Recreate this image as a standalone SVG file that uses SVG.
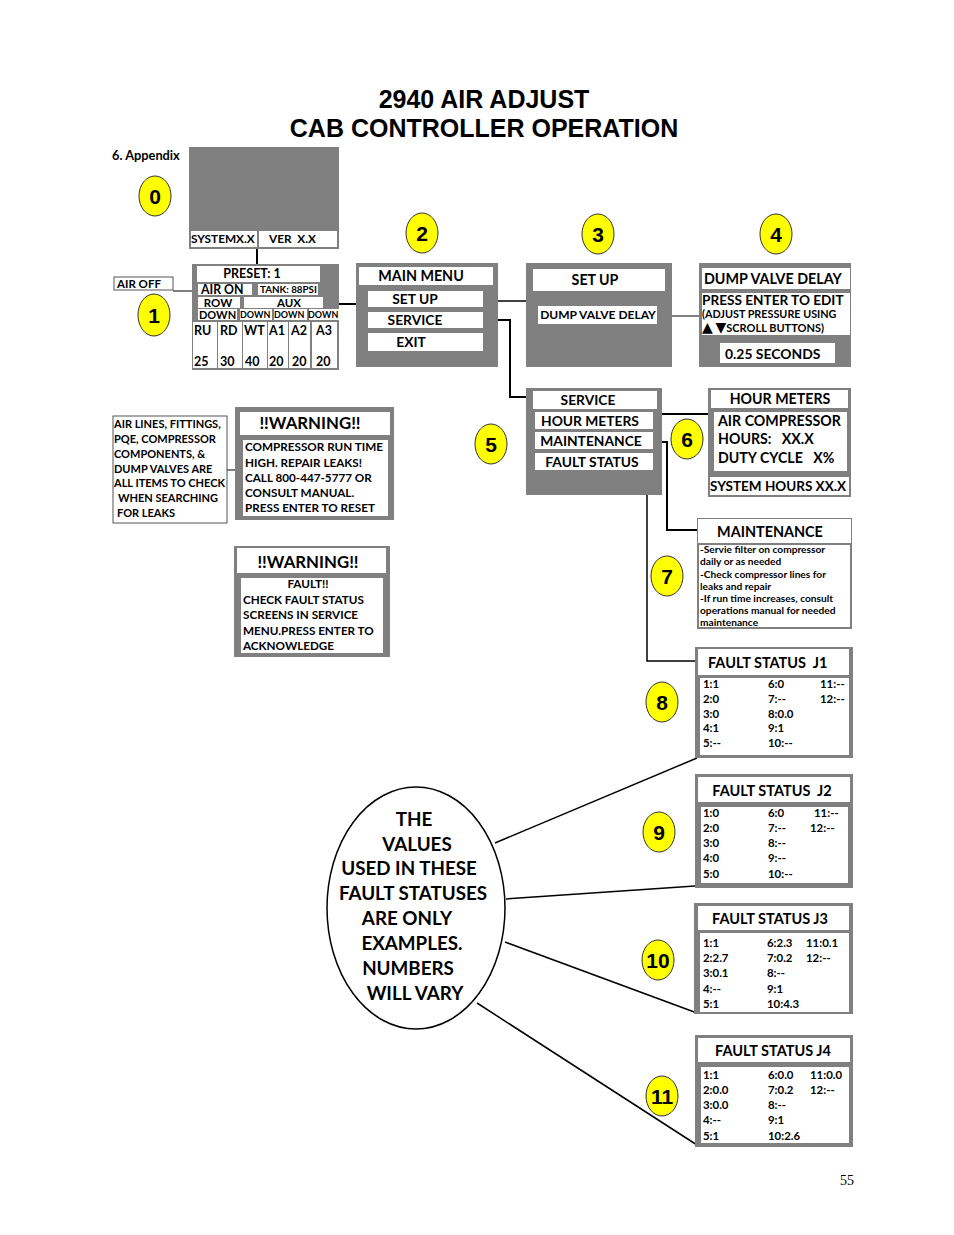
<svg xmlns="http://www.w3.org/2000/svg" width="954" height="1235" viewBox="0 0 954 1235">
<style>
.bg{fill:#fff}
.g{fill:#808080}
.w{fill:#fff}
.wb{fill:#fff;stroke:#555;stroke-width:1}
.t{font-family:Lato,"Liberation Sans",sans-serif;font-weight:bold;fill:#000;white-space:pre}
.c{text-anchor:middle}
.badge{fill:#ffff00;stroke:#333;stroke-width:1}
.bn{font-family:"Liberation Sans",Arial,sans-serif;font-weight:bold;font-size:21px;text-anchor:middle;fill:#000}
.ln{stroke:#000;fill:none}
.tri{font-family:"DejaVu Sans",sans-serif;font-weight:normal}
</style>
<rect class="bg" x="0" y="0" width="954" height="1235"/>
<g id="title">
<text x="484" y="108" font-family="Liberation Sans,Arial,sans-serif" font-weight="bold" font-size="25" text-anchor="middle">2940 AIR ADJUST</text>
<text x="484" y="137" font-family="Liberation Sans,Arial,sans-serif" font-weight="bold" font-size="25" text-anchor="middle">CAB CONTROLLER OPERATION</text>
<text class="t" x="112" y="160" font-size="12.8">6. Appendix</text>
</g>
<g id="connectors">
<path class="ln" stroke-width="2" d="M257 248V264"/>
<path class="ln" stroke-width="1" d="M173 291H198"/>
<path class="ln" stroke-width="2" d="M339 304H357"/>
<path class="ln" stroke-width="1.5" d="M483 301H538"/>
<path class="ln" stroke-width="2" d="M483 320H510V397H533"/>
<path class="ln" stroke-width="1" d="M657 316H700"/>
<path class="ln" stroke-width="2" d="M653 414H714"/>
<path class="ln" stroke-width="2" d="M643 442H667V530H698"/>
<path class="ln" stroke-width="1.5" d="M647 462V661H700"/>
<path class="ln" stroke-width="1" d="M227 470H243"/>
<path class="ln" stroke-width="1.5" d="M495 843L697 758"/>
<path class="ln" stroke-width="1.5" d="M506 899L695 886"/>
<path class="ln" stroke-width="1.5" d="M505 942L697 1013"/>
<path class="ln" stroke-width="1.5" d="M477 1003L697 1145"/>
</g>
<g id="badges">
<ellipse class="badge" cx="155" cy="196" rx="16" ry="20"/><text class="bn" x="155" y="204">0</text>
<ellipse class="badge" cx="154" cy="315" rx="16" ry="21"/><text class="bn" x="154" y="323">1</text>
<ellipse class="badge" cx="422" cy="233" rx="16" ry="20"/><text class="bn" x="422" y="241">2</text>
<ellipse class="badge" cx="598" cy="234" rx="16" ry="20"/><text class="bn" x="598" y="242">3</text>
<ellipse class="badge" cx="776" cy="234" rx="16" ry="20"/><text class="bn" x="776" y="242">4</text>
<ellipse class="badge" cx="491" cy="444" rx="16" ry="20"/><text class="bn" x="491" y="452">5</text>
<ellipse class="badge" cx="687" cy="439" rx="16" ry="20"/><text class="bn" x="687" y="447">6</text>
<ellipse class="badge" cx="667" cy="576" rx="16" ry="20"/><text class="bn" x="667" y="584">7</text>
<ellipse class="badge" cx="662" cy="702" rx="16" ry="20"/><text class="bn" x="662" y="710">8</text>
<ellipse class="badge" cx="659" cy="832" rx="16" ry="20"/><text class="bn" x="659" y="840">9</text>
<ellipse class="badge" cx="658" cy="960" rx="16" ry="20"/><text class="bn" x="658" y="968">10</text>
<ellipse class="badge" cx="662" cy="1096" rx="16" ry="20"/><text class="bn" x="662" y="1104">11</text>
</g>
<g id="screen0">
<rect class="g" x="189" y="147" width="150" height="102"/>
<rect class="w" x="191" y="231" width="66" height="16"/>
<rect class="w" x="259" y="231" width="78" height="16"/>
<text class="t" x="191" y="243" font-size="11.8">SYSTEMX.X</text>
<text class="t" x="269" y="243" font-size="11.8">VER  X.X</text>
</g>
<g id="airoff">
<rect class="wb" x="114" y="277" width="59" height="13"/>
<text class="t" x="117" y="288" font-size="11.5">AIR OFF</text>
</g>
<g id="screen1">
<rect class="g" x="192" y="264" width="147" height="106"/>
<rect class="w" x="197" y="266" width="123" height="16"/>
<text class="t c" x="252" y="278" font-size="12.5">PRESET: 1</text>
<rect class="w" x="198" y="284" width="54" height="11"/>
<text class="t" x="201" y="294" font-size="12.3">AIR ON</text>
<rect class="w" x="258" y="284" width="60" height="11"/>
<text class="t" x="260" y="293" font-size="9.8">TANK: 88PSI</text>
<rect class="w" x="198" y="297" width="42" height="11"/>
<text class="t c" x="218" y="307" font-size="11.5">ROW</text>
<rect class="w" x="244" y="297" width="79" height="11"/>
<text class="t c" x="289" y="307" font-size="11.5">AUX</text>
<rect class="w" x="198" y="309" width="39" height="11"/>
<text class="t" x="199" y="319" font-size="11">DOWN</text>
<rect class="w" x="240" y="309" width="32" height="11"/>
<text class="t" x="240" y="318" font-size="9">DOWN</text>
<rect class="w" x="274" y="309" width="33" height="11"/>
<text class="t" x="274" y="318" font-size="9">DOWN</text>
<rect class="w" x="309" y="309" width="31" height="11"/>
<text class="t" x="308" y="318" font-size="9">DOWN</text>
<rect class="w" x="193" y="322" width="24" height="46"/>
<rect class="w" x="218" y="322" width="24" height="46"/>
<rect class="w" x="243" y="322" width="24" height="46"/>
<rect class="w" x="268" y="322" width="20" height="46"/>
<rect class="w" x="289" y="322" width="21" height="46"/>
<rect class="w" x="312" y="322" width="25" height="46"/>
<g class="t" font-size="12.5">
<text x="194" y="335">RU</text><text x="220" y="335">RD</text><text x="244" y="335">WT</text><text x="269" y="335">A1</text><text x="291" y="335">A2</text><text x="316" y="335">A3</text>
<text x="194" y="366">25</text><text x="220" y="366">30</text><text x="245" y="366">40</text><text x="269" y="366">20</text><text x="292" y="366">20</text><text x="316" y="366">20</text>
</g>
</g>
<g id="mainmenu">
<rect class="g" x="356" y="263" width="142" height="104"/>
<rect class="w" x="359" y="267" width="134" height="18"/>
<text class="t c" x="421" y="281" font-size="14.3">MAIN MENU</text>
<rect class="w" x="368" y="291" width="115" height="16"/>
<text class="t c" x="415" y="304" font-size="13.8">SET UP</text>
<rect class="w" x="368" y="312" width="115" height="16"/>
<text class="t c" x="415" y="325" font-size="13.8">SERVICE</text>
<rect class="w" x="368" y="333" width="115" height="18"/>
<text class="t c" x="411" y="347" font-size="13.8">EXIT</text>
</g>
<g id="setup">
<rect class="g" x="526" y="263" width="146" height="104"/>
<rect class="w" x="533" y="269" width="132" height="22"/>
<text class="t c" x="595" y="285" font-size="14.2">SET UP</text>
<rect class="w" x="538" y="306" width="119" height="18"/>
<text class="t c" x="598" y="319" font-size="12">DUMP VALVE DELAY</text>
</g>
<g id="dumpvalve">
<rect class="g" x="699" y="263" width="152" height="104"/>
<rect class="w" x="702" y="268" width="148" height="21"/>
<text class="t" x="704" y="284" font-size="14.3">DUMP VALVE DELAY</text>
<rect class="w" x="702" y="293" width="148" height="42"/>
<text class="t" x="702" y="305" font-size="13.6">PRESS ENTER TO EDIT</text>
<text class="t" x="702" y="318" font-size="10.8">(ADJUST PRESSURE USING</text>
<text class="t" x="702" y="332" font-size="11"><tspan class="tri" font-size="14">▲</tspan> <tspan class="tri" font-size="14">▼</tspan>SCROLL BUTTONS)</text>
<rect class="w" x="720" y="343" width="115" height="20"/>
<text class="t" x="725" y="359" font-size="13.9">0.25 SECONDS</text>
</g>
<g id="service">
<rect class="g" x="526" y="388" width="136" height="107"/>
<rect class="w" x="533" y="391" width="124" height="18"/>
<text class="t c" x="588" y="405" font-size="13.8">SERVICE</text>
<rect class="w" x="535" y="412" width="118" height="17"/>
<text class="t c" x="590" y="426" font-size="13.8">HOUR METERS</text>
<rect class="w" x="535" y="432" width="118" height="17"/>
<text class="t c" x="591" y="446" font-size="13.8">MAINTENANCE</text>
<rect class="w" x="535" y="453" width="118" height="17"/>
<text class="t c" x="592" y="467" font-size="13.8">FAULT STATUS</text>
</g>
<g id="hourmeters">
<rect class="g" x="708" y="388" width="143" height="109"/>
<rect class="w" x="711" y="390" width="137" height="18"/>
<text class="t c" x="780" y="404" font-size="14.2">HOUR METERS</text>
<rect class="w" x="714" y="412" width="133" height="59"/>
<text class="t" x="718" y="426" font-size="14.2">AIR COMPRESSOR</text>
<text class="t" x="718" y="444" font-size="14.2">HOURS:   XX.X</text>
<text class="t" x="718" y="463" font-size="14.2">DUTY CYCLE   X%</text>
<rect class="w" x="710" y="477" width="139" height="18"/>
<text class="t" x="710" y="491" font-size="13.5">SYSTEM HOURS XX.X</text>
</g>
<g id="airlines">
<rect class="wb" x="113" y="416" width="114" height="107"/>
<g class="t" font-size="11">
<text x="114" y="428">AIR LINES, FITTINGS,</text>
<text x="114" y="443">PQE, COMPRESSOR</text>
<text x="114" y="458">COMPONENTS, &amp;</text>
<text x="114" y="473">DUMP VALVES ARE</text>
<text x="114" y="487">ALL ITEMS TO CHECK</text>
<text x="118" y="502">WHEN SEARCHING</text>
<text x="117" y="517">FOR LEAKS</text>
</g>
</g>
<g id="warning1">
<rect class="g" x="235" y="407" width="159" height="113"/>
<rect class="w" x="240" y="412" width="150" height="23"/>
<text class="t c" x="310" y="429" font-size="16.8">!!WARNING!!</text>
<rect class="w" x="243" y="440" width="145" height="76"/>
<g class="t" font-size="11.7">
<text x="245" y="451">COMPRESSOR RUN TIME</text>
<text x="245" y="467">HIGH. REPAIR LEAKS!</text>
<text x="245" y="482">CALL 800-447-5777 OR</text>
<text x="245" y="497">CONSULT MANUAL.</text>
<text x="245" y="512">PRESS ENTER TO RESET</text>
</g>
</g>
<g id="warning2">
<rect class="g" x="234" y="546" width="156" height="111"/>
<rect class="w" x="237" y="548" width="149" height="25"/>
<text class="t c" x="308" y="568" font-size="16.8">!!WARNING!!</text>
<rect class="w" x="241" y="578" width="142" height="75"/>
<g class="t" font-size="11.7">
<text class="c" x="308" y="588">FAULT!!</text>
<text x="243" y="604">CHECK FAULT STATUS</text>
<text x="243" y="619">SCREENS IN SERVICE</text>
<text x="243" y="635">MENU.PRESS ENTER TO</text>
<text x="243" y="650">ACKNOWLEDGE</text>
</g>
</g>
<g id="maintenance">
<rect class="g" x="697" y="518" width="155" height="111"/>
<rect class="w" x="698" y="519" width="153" height="24"/>
<text class="t c" x="770" y="537" font-size="14.4">MAINTENANCE</text>
<rect class="w" x="699" y="545" width="151" height="82"/>
<g class="t" font-size="10.2">
<text x="700" y="553">-Servie filter on compressor</text>
<text x="700" y="565">daily or as needed</text>
<text x="700" y="578">-Check compressor lines for</text>
<text x="700" y="590">leaks and repair</text>
<text x="700" y="602">-If run time increases, consult</text>
<text x="700" y="614">operations manual for needed</text>
<text x="700" y="626">maintenance</text>
</g>
</g>
<g id="faultJ1">
<rect class="g" x="695" y="647" width="158" height="111"/>
<rect class="w" x="698" y="649" width="151" height="26"/>
<text class="t" x="708" y="668" font-size="14.5">FAULT STATUS  J1</text>
<rect class="w" x="700" y="678" width="149" height="77"/>
<g class="t" font-size="11.4">
<text x="703" y="688">1:1</text><text x="703" y="703">2:0</text><text x="703" y="718">3:0</text><text x="703" y="732">4:1</text><text x="703" y="747">5:--</text>
<text x="768" y="688">6:0</text><text x="768" y="703">7:--</text><text x="768" y="718">8:0.0</text><text x="768" y="732">9:1</text><text x="768" y="747">10:--</text>
<text x="820" y="688">11:--</text><text x="820" y="703">12:--</text>
</g>
</g>
<g id="faultJ2">
<rect class="g" x="695" y="774" width="158" height="114"/>
<rect class="w" x="698" y="777" width="152" height="25"/>
<text class="t c" x="772" y="796" font-size="14.5">FAULT STATUS  J2</text>
<rect class="w" x="701" y="807" width="147" height="76"/>
<g class="t" font-size="11.4">
<text x="703" y="817">1:0</text><text x="703" y="832">2:0</text><text x="703" y="847">3:0</text><text x="703" y="862">4:0</text><text x="703" y="878">5:0</text>
<text x="768" y="817">6:0</text><text x="768" y="832">7:--</text><text x="768" y="847">8:--</text><text x="768" y="862">9:--</text><text x="768" y="878">10:--</text>
<text x="814" y="817">11:--</text><text x="810" y="832">12:--</text>
</g>
</g>
<g id="faultJ3">
<rect class="g" x="694" y="903" width="159" height="111"/>
<rect class="w" x="698" y="906" width="151" height="24"/>
<text class="t c" x="770" y="924" font-size="14.5">FAULT STATUS J3</text>
<rect class="w" x="700" y="933" width="149" height="79"/>
<g class="t" font-size="11.4">
<text x="703" y="947">1:1</text><text x="703" y="962">2:2.7</text><text x="703" y="977">3:0.1</text><text x="703" y="993">4:--</text><text x="703" y="1008">5:1</text>
<text x="767" y="947">6:2.3</text><text x="767" y="962">7:0.2</text><text x="767" y="977">8:--</text><text x="767" y="993">9:1</text><text x="767" y="1008">10:4.3</text>
<text x="806" y="947">11:0.1</text><text x="806" y="962">12:--</text>
</g>
</g>
<g id="faultJ4">
<rect class="g" x="695" y="1035" width="158" height="112"/>
<rect class="w" x="698" y="1038" width="152" height="24"/>
<text class="t c" x="773" y="1056" font-size="14.5">FAULT STATUS J4</text>
<rect class="w" x="701" y="1067" width="148" height="76"/>
<g class="t" font-size="11.4">
<text x="703" y="1079">1:1</text><text x="703" y="1094">2:0.0</text><text x="703" y="1109">3:0.0</text><text x="703" y="1124">4:--</text><text x="703" y="1140">5:1</text>
<text x="768" y="1079">6:0.0</text><text x="768" y="1094">7:0.2</text><text x="768" y="1109">8:--</text><text x="768" y="1124">9:1</text><text x="768" y="1140">10:2.6</text>
<text x="810" y="1079">11:0.0</text><text x="810" y="1094">12:--</text>
</g>
</g>
<g id="note">
<ellipse cx="416" cy="908" rx="89" ry="121" fill="#fff" stroke="#000" stroke-width="1.5"/>
<g class="t c" font-size="18.8">
<text x="414" y="826">THE</text>
<text x="417" y="851">VALUES</text>
<text x="409" y="875">USED IN THESE</text>
<text x="413" y="900">FAULT STATUSES</text>
<text x="407" y="925">ARE ONLY</text>
<text x="412" y="950">EXAMPLES.</text>
<text x="408" y="975">NUMBERS</text>
<text x="415" y="1000">WILL VARY</text>
</g>
</g>
<text x="847" y="1185" font-family="Liberation Serif,serif" font-size="14" text-anchor="middle">55</text>
</svg>
